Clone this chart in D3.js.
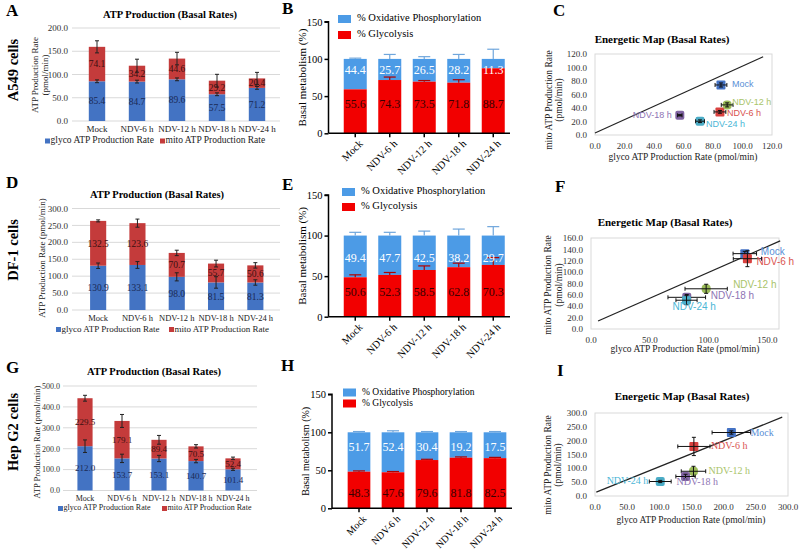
<!DOCTYPE html>
<html><head><meta charset="utf-8">
<script src="https://cdn.jsdelivr.net/npm/d3@7"></script>
<style>
body{margin:0;background:#fff}
svg{display:block}
text{font-family:"Liberation Serif","Times New Roman",serif}
</style>
</head><body>
<svg id="c" width="800" height="551"></svg>
<script>
// ---------------- DATA ----------------
const categories = ["Mock", "NDV-6 h", "NDV-12 h", "NDV-18 h", "NDV-24 h"];

// ATP production (pmol/min)
const a549Glyco = [85.4, 84.7, 89.6, 57.5, 71.2];
const a549Mito  = [74.1, 34.2, 44.6, 29.2, 20.4];
const a549TotalErr = [13, 14, 13.5, 13.7, 13];
const a549GlycoErr = [3, 3, 3, 3, 3];

const df1Glyco = [130.9, 133.1, 98.0, 81.5, 81.3];
const df1Mito  = [132.5, 123.6, 70.7, 55.7, 50.6];
const df1TotalErr = [3, 12, 8, 10, 8];
const df1GlycoErr = [8, 10, 12, 17, 8];

const hepGlyco = [212.0, 153.7, 153.1, 140.7, 101.4];
const hepMito  = [229.5, 179.1, 89.4, 70.5, 52.4];
const hepTotalErr = [14, 31, 21, 8, 6];
const hepGlycoErr = [30, 20, 15, 8, 5];

// Basal metabolism (%) - bar heights, printed labels
const a549GlyBar = [59.1, 71.6, 69.4, 68.0, 87.4];
const a549GlyLabel = [55.6, 74.3, 73.5, 71.8, 88.7];
const a549OxLabel  = [44.4, 25.7, 26.5, 28.2, 11.3];
const a549PctTopErr = [1, 6, 3, 6, 13];
const a549PctGlyErr = [0, 4, 1.5, 4, 0];

const df1GlyBar = [48.6, 51.5, 57.6, 61.0, 63.8];
const df1GlyLabel = [50.6, 52.3, 58.5, 62.8, 70.3];
const df1OxLabel  = [49.4, 47.7, 42.5, 38.2, 29.7];
const df1PctTopErr = [4, 4, 5.5, 8, 11];
const df1PctGlyErr = [3, 3, 5, 5, 9];

const hepGlyBar = [48.2, 47.4, 63.5, 66.6, 66.0];
const hepGlyLabel = [48.3, 47.6, 79.6, 81.8, 82.5];
const hepOxLabel  = [51.7, 52.4, 30.4, 19.2, 17.5];
const hepPctTopErr = [1, 2, 1, 1, 1];
const hepPctGlyErr = [1, 1, 1, 1, 1];

// Energetic map error bars (x = glyco, y = mito)
const a549MapXErr = [4, 4, 4, 1.5, 3];
const a549MapYErr = [3, 2, 3, 1, 2];
const df1MapXErr = [10, 12, 18, 16, 9];
const df1MapYErr = [4, 14, 8, 5, 8];
const hepMapXErr = [30, 25, 19, 15, 17];
const hepMapYErr = [6, 33, 18, 8, 4];

// Reference lines on energetic maps [[x,y],[x,y]]
const a549MapLine = [[0, 3], [114, 116]];
const df1MapLine  = [[6, 14], [161, 155]];
const hepMapLine  = [[2, 14], [291, 285]];

// Tick values
const a549AtpTicks = [0, 50, 100, 150, 200];
const df1AtpTicks = [0, 50, 100, 150, 200, 250, 300];
const hepAtpTicks = [0, 100, 200, 300, 400, 500];
const pctTicks = [0, 50, 100, 150];
const a549MapXTicks = [0, 20, 40, 60, 80, 100, 120];
const a549MapYTicks = [0, 20, 40, 60, 80, 100, 120];
const df1MapXTicks = [0, 50, 100, 150];
const df1MapYTicks = [0, 20, 40, 60, 80, 100, 120, 140, 160];
const hepMapXTicks = [0, 50, 100, 150, 200, 250, 300];
const hepMapYTicks = [0, 50, 100, 150, 200, 250, 300];

// ---------------- STYLE ----------------
const SERIF = '"Liberation Serif","Times New Roman",serif';
const SANS = '"Liberation Sans",Arial,sans-serif';
const glycoBlue = "#4373c3";
const mitoRed = "#c43b3b";
const oxBlue = "#4c9be6";
const glyRed = "#f20000";
const mapColors = ["#4472c4", "#d9413f", "#9bbb59", "#8064a2", "#4bacc6"];
const mapLabelColors = ["#5a8fd6", "#d9534f", "#a9c46a", "#8e74b4", "#4bb6d6"];
const f1 = d3.format(".1f");

const svg = d3.select("#c");

function txt(g, x, y, s, size, opts = {}) {
  const t = g.append("text").attr("x", x).attr("y", y).text(s)
    .style("font-size", size + "px")
    .style("font-family", opts.family || SERIF)
    .attr("fill", opts.fill || "#000");
  if (opts.anchor) t.attr("text-anchor", opts.anchor);
  if (opts.weight) t.style("font-weight", opts.weight);
  if (opts.rotate != null) t.attr("transform", `rotate(${opts.rotate},${x},${y})`);
  if (opts.baseline) t.attr("dominant-baseline", opts.baseline);
  return t;
}

// ---------------- ATP stacked bars ----------------
function atpPanel(o) {
  const g = svg.append("g");
  const x = d3.scaleBand().domain(categories).range([o.left, o.right])
    .paddingInner(0.59).paddingOuter(0.295);
  const y = d3.scaleLinear().domain([0, o.max]).range([o.y0, o.yTop]);

  g.selectAll(".grid").data(o.ticks).join("line")
    .attr("x1", o.gridL).attr("x2", o.gridR)
    .attr("y1", d => y(d)).attr("y2", d => y(d))
    .attr("stroke", "#d9d9d9").attr("stroke-width", 1);
  g.selectAll(".tl").data(o.ticks).join("text")
    .attr("x", o.tickX).attr("y", d => y(d)).attr("dy", "0.35em")
    .attr("text-anchor", "end").style("font-size", o.tickSize + "px").style("font-family", SERIF)
    .attr("fill", "#333").text(d => f1(d));

  const rows = categories.map((c, i) => ({c, gl: o.glyco[i], mi: o.mito[i], ge: o.glycoErr[i], te: o.totalErr[i]}));
  g.selectAll(".gb").data(rows).join("rect")
    .attr("x", d => x(d.c)).attr("width", x.bandwidth())
    .attr("y", d => y(d.gl)).attr("height", d => y(0) - y(d.gl)).attr("fill", glycoBlue);
  g.selectAll(".mb").data(rows).join("rect")
    .attr("x", d => x(d.c)).attr("width", x.bandwidth())
    .attr("y", d => y(d.gl + d.mi)).attr("height", d => y(d.gl) - y(d.gl + d.mi)).attr("fill", mitoRed);

  rows.forEach(d => {
    const cx = x(d.c) + x.bandwidth() / 2;
    [[d.gl, d.ge], [d.gl + d.mi, d.te]].forEach(([v, e]) => {
      g.append("line").attr("x1", cx).attr("x2", cx).attr("y1", y(v - e)).attr("y2", y(v + e))
        .attr("stroke", "#222").attr("stroke-width", 1);
      [v - e, v + e].forEach(w => g.append("line").attr("x1", cx - 2).attr("x2", cx + 2)
        .attr("y1", y(w)).attr("y2", y(w)).attr("stroke", "#222").attr("stroke-width", 1));
    });
  });

  g.selectAll(".gl").data(rows).join("text")
    .attr("x", d => x(d.c) + x.bandwidth() / 2).attr("y", d => y(d.gl / 2)).attr("dy", "0.35em")
    .attr("text-anchor", "middle").style("font-size", o.labSize + "px").style("font-family", SERIF)
    .attr("fill", "#1b2a55").text(d => f1(d.gl));
  g.selectAll(".ml").data(rows).join("text")
    .attr("x", d => x(d.c) + x.bandwidth() / 2).attr("y", d => y(d.gl + d.mi / 2)).attr("dy", "0.35em")
    .attr("text-anchor", "middle").style("font-size", o.labSize + "px").style("font-family", SERIF)
    .attr("fill", "#3a1010").text(d => f1(d.mi));

  g.selectAll(".cl").data(categories).join("text")
    .attr("x", d => x(d) + x.bandwidth() / 2).attr("y", o.catY)
    .attr("text-anchor", "middle").style("font-size", o.catSize + "px").style("font-family", SERIF)
    .attr("fill", "#222").text(d => d);

  txt(g, o.titleX, o.titleY, "ATP Production (Basal Rates)", 10.5, {anchor: "middle", weight: "bold"});
  o.ylab.forEach(l => txt(g, l.x, o.ylabY, l.t, o.ylabSize, {anchor: "middle", rotate: -90, fill: "#222"}));

  [[o.leg1, "glyco ATP Production Rate", glycoBlue], [o.leg2, "mito ATP Production Rate", mitoRed]].forEach(([lx, t, c]) => {
    g.append("rect").attr("x", lx).attr("y", o.legY - 2.5).attr("width", 5).attr("height", 5).attr("fill", c);
    txt(g, lx + 5.5, o.legY, t, o.legSize, {baseline: "middle", fill: "#222"});
  });
}

// ---------------- percent stacked bars ----------------
function pctPanel(o) {
  const g = svg.append("g");
  const x = d3.scaleBand().domain(categories).range([o.left, o.right])
    .paddingInner(0.333).paddingOuter(0.1665);
  const y = d3.scaleLinear().domain([0, 150]).range([o.y0, o.yTop]);
  const rows = categories.map((c, i) => ({c, gb: o.glyBar[i], gl: o.glyLabel[i], ox: o.oxLabel[i], te: o.topErr[i], ge: o.glyErr[i]}));

  g.selectAll(".ob").data(rows).join("rect")
    .attr("x", d => x(d.c)).attr("width", x.bandwidth())
    .attr("y", y(100)).attr("height", d => y(d.gb) - y(100)).attr("fill", oxBlue);
  g.selectAll(".rb").data(rows).join("rect")
    .attr("x", d => x(d.c)).attr("width", x.bandwidth())
    .attr("y", d => y(d.gb)).attr("height", d => y(0) - y(d.gb)).attr("fill", glyRed);

  rows.forEach(d => {
    const cx = x(d.c) + x.bandwidth() / 2;
    if (d.te > 0) {
      g.append("line").attr("x1", cx).attr("x2", cx).attr("y1", y(100)).attr("y2", y(100 + d.te)).attr("stroke", "#6fa6dc").attr("stroke-width", 1.2);
      g.append("line").attr("x1", cx - 6).attr("x2", cx + 6).attr("y1", y(100 + d.te)).attr("y2", y(100 + d.te)).attr("stroke", "#6fa6dc").attr("stroke-width", 1.2);
    }
    if (d.ge > 0) {
      g.append("line").attr("x1", cx).attr("x2", cx).attr("y1", y(d.gb)).attr("y2", y(d.gb + d.ge)).attr("stroke", "#b00000").attr("stroke-width", 1.2);
      g.append("line").attr("x1", cx - 6).attr("x2", cx + 6).attr("y1", y(d.gb + d.ge)).attr("y2", y(d.gb + d.ge)).attr("stroke", "#b00000").attr("stroke-width", 1.2);
    }
  });

  g.selectAll(".olab").data(rows).join("text")
    .attr("x", d => x(d.c) + x.bandwidth() / 2).attr("y", y(o.oxLabY)).attr("dy", "0.35em")
    .attr("text-anchor", "middle").style("font-size", o.labSize + "px").style("font-family", SERIF)
    .attr("fill", "#fff").text(d => f1(d.ox));
  g.selectAll(".glab").data(rows).join("text")
    .attr("x", d => x(d.c) + x.bandwidth() / 2).attr("y", y(o.glyLabY)).attr("dy", "0.35em")
    .attr("text-anchor", "middle").style("font-size", o.labSize + "px").style("font-family", SERIF)
    .attr("fill", "#3a0000").text(d => f1(d.gl));

  const yAxis = d3.axisLeft(y).tickValues(pctTicks).tickSize(4).tickPadding(2).tickFormat(d3.format("d"));
  const ya = g.append("g").attr("transform", `translate(${o.axisX},0)`).call(yAxis);
  ya.select(".domain").attr("stroke", "#000").attr("stroke-width", 1.5).attr("d", `M-4,${o.yTop}H0V${o.y0}`);
  ya.selectAll(".tick line").attr("stroke", "#000").attr("stroke-width", 1.5);
  ya.selectAll("text").style("font-size", "10.5px").style("font-family", SERIF).attr("fill", "#000");

  g.append("line").attr("x1", o.axisX).attr("x2", o.axisEnd).attr("y1", o.y0).attr("y2", o.y0)
    .attr("stroke", "#000").attr("stroke-width", 1.5);
  categories.forEach(c => {
    const cx = x(c) + x.bandwidth() / 2;
    g.append("line").attr("x1", cx).attr("x2", cx).attr("y1", o.y0).attr("y2", o.y0 + 4).attr("stroke", "#000").attr("stroke-width", 1.5);
    txt(g, cx + 3, o.y0 + 6, c, o.catSize, {anchor: "end", rotate: -45, baseline: "hanging"});
  });

  txt(g, o.ylabX, (o.y0 + o.yTop) / 2, "Basal metabolism (%)", o.ylabSize, {anchor: "middle", rotate: -90});

  [[o.legY1, "% Oxidative Phosphorylation", oxBlue], [o.legY2, "% Glycolysis", glyRed]].forEach(([ly, t, c]) => {
    g.append("rect").attr("x", o.legX).attr("y", ly - 4).attr("width", 13).attr("height", 8).attr("fill", c);
    txt(g, o.legX + 19, ly, t, o.legSize, {baseline: "middle"});
  });
}

// ---------------- energetic map ----------------
function mapPanel(o) {
  const g = svg.append("g");
  const x = d3.scaleLinear().domain([0, o.xmax]).range([o.x0, o.x1]);
  const y = d3.scaleLinear().domain([0, o.ymax]).range([o.y0, o.y1]);
  g.append("rect").attr("x", o.x0).attr("y", o.y1).attr("width", o.x1 - o.x0).attr("height", o.y0 - o.y1)
    .attr("fill", "none").attr("stroke", "#d9d9d9").attr("stroke-width", 1);

  g.selectAll(".yt").data(o.yticks).join("text")
    .attr("x", o.x0 - 8).attr("y", d => y(d)).attr("dy", "0.35em").attr("text-anchor", "end")
    .style("font-size", "9px").style("font-family", SERIF).attr("fill", "#333").text(d => f1(d));
  g.selectAll(".xt").data(o.xticks).join("text")
    .attr("x", d => x(d)).attr("y", o.y0 + 14).attr("text-anchor", "middle")
    .style("font-size", "9px").style("font-family", SERIF).attr("fill", "#333").text(d => f1(d));

  g.append("line").attr("x1", x(o.line[0][0])).attr("y1", y(o.line[0][1]))
    .attr("x2", x(o.line[1][0])).attr("y2", y(o.line[1][1])).attr("stroke", "#222").attr("stroke-width", 1.2);

  const pts = categories.map((c, i) => ({c, i, gx: o.glyco[i], my: o.mito[i], xe: o.xerr[i], ye: o.yerr[i]}));
  pts.forEach(d => {
    const px = x(d.gx), py = y(d.my);
    g.append("rect").attr("x", px - 4.5).attr("y", py - 4.5).attr("width", 9).attr("height", 9)
      .attr("rx", o.rx[d.i]).attr("fill", mapColors[d.i]);
    const st = "#111";
    g.append("line").attr("x1", x(d.gx - d.xe)).attr("x2", x(d.gx + d.xe)).attr("y1", py).attr("y2", py).attr("stroke", st).attr("stroke-width", 1);
    [d.gx - d.xe, d.gx + d.xe].forEach(v => g.append("line").attr("x1", x(v)).attr("x2", x(v)).attr("y1", py - 2).attr("y2", py + 2).attr("stroke", st));
    g.append("line").attr("x1", px).attr("x2", px).attr("y1", y(d.my - d.ye)).attr("y2", y(d.my + d.ye)).attr("stroke", st).attr("stroke-width", 1);
    [d.my - d.ye, d.my + d.ye].forEach(v => g.append("line").attr("x1", px - 2).attr("x2", px + 2).attr("y1", y(v)).attr("y2", y(v)).attr("stroke", st));
  });
  pts.forEach(d => {
    const off = o.labOff[d.i];
    txt(g, x(d.gx) + off[0], y(d.my) + off[1], d.c, o.labSize,
      {anchor: off[2] || "start", baseline: "middle", fill: mapLabelColors[d.i], family: o.labFamily});
  });

  txt(g, o.titleX, o.titleY, "Energetic Map (Basal Rates)", 11, {anchor: "middle", weight: "bold"});
  txt(g, o.xlabX, o.xlabY, "glyco ATP Production Rate (pmol/min)", 9.5, {anchor: "middle", fill: "#222"});
  txt(g, o.ylabX1, o.ylabY, "mito ATP Production Rate", 9.5, {anchor: "middle", rotate: -90, fill: "#222"});
  txt(g, o.ylabX2, o.ylabY, "(pmol/min)", 9.5, {anchor: "middle", rotate: -90, fill: "#222"});
}

// ---------------- panel letters and row labels ----------------
[["A", 6, 16], ["B", 282, 14], ["C", 553, 16], ["D", 6, 188], ["E", 282, 190], ["F", 555, 192],
 ["G", 6, 373], ["H", 281, 371], ["I", 557, 376]].forEach(([t, x, y]) => txt(svg, x, y, t, 17, {weight: "bold"}));
[["A549 cells", 70], ["DF-1 cells", 250], ["Hep G2 cells", 432]].forEach(([t, y]) =>
  txt(svg, 18, y, t, 14.5, {anchor: "middle", rotate: -90, weight: "bold"}));

// ---------------- build ----------------
atpPanel({left: 77, right: 277, y0: 121, yTop: 28, max: 200, ticks: a549AtpTicks, gridL: 72, gridR: 280, tickX: 68, tickSize: 9,
  glyco: a549Glyco, mito: a549Mito, glycoErr: a549GlycoErr, totalErr: a549TotalErr, catY: 131.5, catSize: 9, labSize: 9.5,
  titleX: 170, titleY: 18, ylab: [{x: 38, t: "ATP Production Rate"}, {x: 48, t: "(pmol/min)"}], ylabY: 75, ylabSize: 9,
  leg1: 45, leg2: 160, legY: 141, legSize: 9.5});
atpPanel({left: 78.5, right: 275, y0: 310, yTop: 208.5, max: 300, ticks: df1AtpTicks, gridL: 72, gridR: 280, tickX: 68, tickSize: 9,
  glyco: df1Glyco, mito: df1Mito, glycoErr: df1GlycoErr, totalErr: df1TotalErr, catY: 320.5, catSize: 8.5, labSize: 9.5,
  titleX: 157, titleY: 198, ylab: [{x: 45, t: "ATP Production Rate (pmol/min)"}], ylabY: 258, ylabSize: 9,
  leg1: 56, leg2: 169, legY: 329.5, legSize: 9});
atpPanel({left: 66.5, right: 251.5, y0: 490.5, yTop: 386, max: 500, ticks: hepAtpTicks, gridL: 63, gridR: 257, tickX: 60, tickSize: 8,
  glyco: hepGlyco, mito: hepMito, glycoErr: hepGlycoErr, totalErr: hepTotalErr, catY: 501, catSize: 8, labSize: 9,
  titleX: 154, titleY: 375, ylab: [{x: 40, t: "ATP Production Rate (pmol/min)"}], ylabY: 442, ylabSize: 8.5,
  leg1: 58, leg2: 162, legY: 508.5, legSize: 8});

pctPanel({left: 338, right: 510.5, axisX: 328.5, axisEnd: 510, y0: 133.3, yTop: 21.7,
  glyBar: a549GlyBar, glyLabel: a549GlyLabel, oxLabel: a549OxLabel, topErr: a549PctTopErr, glyErr: a549PctGlyErr,
  oxLabY: 86, glyLabY: 39, labSize: 12, ylabX: 306, ylabSize: 11, catSize: 10.5,
  legX: 338, legY1: 19, legY2: 35, legSize: 10.5});
pctPanel({left: 338, right: 510.5, axisX: 328.5, axisEnd: 510, y0: 316.7, yTop: 195,
  glyBar: df1GlyBar, glyLabel: df1GlyLabel, oxLabel: df1OxLabel, topErr: df1PctTopErr, glyErr: df1PctGlyErr,
  oxLabY: 72, glyLabY: 30.5, labSize: 12, ylabX: 306, ylabSize: 11, catSize: 10.5,
  legX: 342, legY1: 192, legY2: 207, legSize: 10.5});
pctPanel({left: 342, right: 512, axisX: 332, axisEnd: 512, y0: 508.3, yTop: 394.3,
  glyBar: hepGlyBar, glyLabel: hepGlyLabel, oxLabel: hepOxLabel, topErr: hepPctTopErr, glyErr: hepPctGlyErr,
  oxLabY: 81, glyLabY: 20.5, labSize: 12, ylabX: 309, ylabSize: 10, catSize: 10,
  legX: 343, legY1: 392.5, legY2: 403.5, legSize: 9.5});

mapPanel({x0: 595, x1: 772, xmax: 120, y0: 135, y1: 54, ymax: 120, xticks: a549MapXTicks, yticks: a549MapYTicks,
  glyco: a549Glyco, mito: a549Mito, xerr: a549MapXErr, yerr: a549MapYErr, line: a549MapLine,
  rx: [1, 1, 4, 2, 2],
  labOff: [[11, 0], [7, 1.5], [5, -2], [-8, 0, "end"], [6, 3]], labSize: 9, labFamily: SANS,
  titleX: 662, titleY: 43, xlabX: 683, xlabY: 160, ylabX1: 552, ylabX2: 562, ylabY: 100});
mapPanel({x0: 591, x1: 779, xmax: 160, y0: 329, y1: 238, ymax: 160, xticks: df1MapXTicks, yticks: df1MapYTicks,
  glyco: df1Glyco, mito: df1Mito, xerr: df1MapXErr, yerr: df1MapYErr, line: df1MapLine,
  rx: [1, 1, 4, 2, 2],
  labOff: [[16, -1], [9, 4], [27, -3], [24, -1], [-14, 7]], labSize: 10, labFamily: SANS,
  titleX: 665, titleY: 226, xlabX: 685, xlabY: 352, ylabX1: 551, ylabX2: 562, ylabY: 285});
mapPanel({x0: 595, x1: 788, xmax: 300, y0: 496, y1: 413, ymax: 300, xticks: hepMapXTicks, yticks: hepMapYTicks,
  glyco: hepGlyco, mito: hepMito, xerr: hepMapXErr, yerr: hepMapYErr, line: hepMapLine,
  rx: [1, 1, 4, 2, 2],
  labOff: [[19, 1], [17, 0], [15, 0], [-9, 6], [-12, 0, "end"]], labSize: 10, labFamily: SERIF,
  titleX: 682, titleY: 400, xlabX: 691, xlabY: 523, ylabX1: 551, ylabX2: 561, ylabY: 465});
</script>
</body></html>
